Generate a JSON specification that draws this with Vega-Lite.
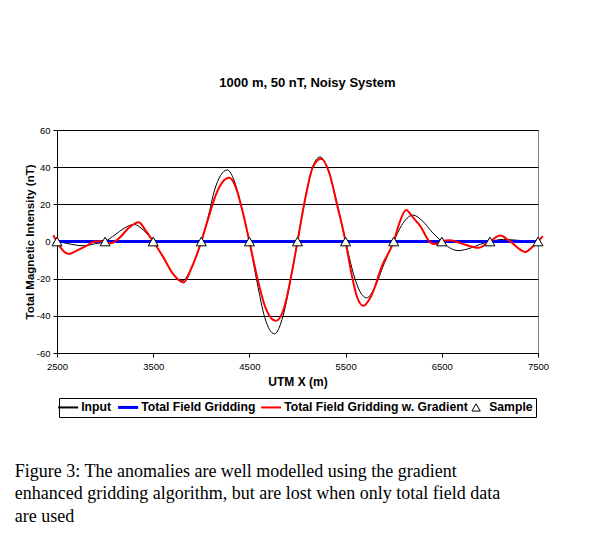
{
  "$schema": "https://vega.github.io/schema/vega-lite/v6.json",
  "background": "white",
  "padding": {"left": 14, "top": 76, "right": 0, "bottom": 0},
  "datasets": {
    "input": [
      {"series": "Input", "x": 2500, "y": 0}, {"series": "Input", "x": 2600, "y": -1}, {"series": "Input", "x": 2770, "y": -2.3}, {"series": "Input", "x": 2900, "y": -1.2}, {"series": "Input", "x": 3000, "y": 0}, {"series": "Input", "x": 3100, "y": 3.5}, {"series": "Input", "x": 3200, "y": 7.2}, {"series": "Input", "x": 3300, "y": 9.2}, {"series": "Input", "x": 3400, "y": 6}, {"series": "Input", "x": 3500, "y": 0}, {"series": "Input", "x": 3600, "y": -8}, {"series": "Input", "x": 3700, "y": -17}, {"series": "Input", "x": 3800, "y": -21.2}, {"series": "Input", "x": 3900, "y": -14}, {"series": "Input", "x": 4000, "y": 0}, {"series": "Input", "x": 4070, "y": 13}, {"series": "Input", "x": 4140, "y": 28}, {"series": "Input", "x": 4200, "y": 35.5}, {"series": "Input", "x": 4270, "y": 38.5}, {"series": "Input", "x": 4340, "y": 33}, {"series": "Input", "x": 4420, "y": 18}, {"series": "Input", "x": 4500, "y": 0}, {"series": "Input", "x": 4580, "y": -22}, {"series": "Input", "x": 4660, "y": -41}, {"series": "Input", "x": 4760, "y": -49.7}, {"series": "Input", "x": 4850, "y": -40}, {"series": "Input", "x": 4930, "y": -20}, {"series": "Input", "x": 5000, "y": 0}, {"series": "Input", "x": 5080, "y": 23}, {"series": "Input", "x": 5150, "y": 39}, {"series": "Input", "x": 5235, "y": 45.5}, {"series": "Input", "x": 5320, "y": 38}, {"series": "Input", "x": 5400, "y": 23}, {"series": "Input", "x": 5500, "y": 0}, {"series": "Input", "x": 5580, "y": -17}, {"series": "Input", "x": 5650, "y": -27}, {"series": "Input", "x": 5720, "y": -30.3}, {"series": "Input", "x": 5800, "y": -25}, {"series": "Input", "x": 5900, "y": -12}, {"series": "Input", "x": 6000, "y": 0}, {"series": "Input", "x": 6080, "y": 8.5}, {"series": "Input", "x": 6200, "y": 14.2}, {"series": "Input", "x": 6300, "y": 11}, {"series": "Input", "x": 6400, "y": 5}, {"series": "Input", "x": 6500, "y": 0}, {"series": "Input", "x": 6580, "y": -3.3}, {"series": "Input", "x": 6670, "y": -4.9}, {"series": "Input", "x": 6800, "y": -3.5}, {"series": "Input", "x": 6900, "y": -1.5}, {"series": "Input", "x": 7000, "y": 0}, {"series": "Input", "x": 7140, "y": 1.1}, {"series": "Input", "x": 7300, "y": 0.6}, {"series": "Input", "x": 7500, "y": 0}
    ],
    "gradient": [
      {"series": "Total Field Gridding w. Gradient", "x": 2460, "y": 3.4}, {"series": "Total Field Gridding w. Gradient", "x": 2500, "y": 0}, {"series": "Total Field Gridding w. Gradient", "x": 2560, "y": -4.8}, {"series": "Total Field Gridding w. Gradient", "x": 2625, "y": -6.7}, {"series": "Total Field Gridding w. Gradient", "x": 2700, "y": -5}, {"series": "Total Field Gridding w. Gradient", "x": 2800, "y": -2.5}, {"series": "Total Field Gridding w. Gradient", "x": 2890, "y": 0}, {"series": "Total Field Gridding w. Gradient", "x": 2960, "y": 0.2}, {"series": "Total Field Gridding w. Gradient", "x": 3060, "y": -0.9}, {"series": "Total Field Gridding w. Gradient", "x": 3150, "y": 2}, {"series": "Total Field Gridding w. Gradient", "x": 3250, "y": 7.5}, {"series": "Total Field Gridding w. Gradient", "x": 3350, "y": 10.3}, {"series": "Total Field Gridding w. Gradient", "x": 3420, "y": 6}, {"series": "Total Field Gridding w. Gradient", "x": 3500, "y": 0}, {"series": "Total Field Gridding w. Gradient", "x": 3600, "y": -8}, {"series": "Total Field Gridding w. Gradient", "x": 3700, "y": -17}, {"series": "Total Field Gridding w. Gradient", "x": 3815, "y": -22}, {"series": "Total Field Gridding w. Gradient", "x": 3900, "y": -14}, {"series": "Total Field Gridding w. Gradient", "x": 4000, "y": 0}, {"series": "Total Field Gridding w. Gradient", "x": 4070, "y": 12}, {"series": "Total Field Gridding w. Gradient", "x": 4150, "y": 25}, {"series": "Total Field Gridding w. Gradient", "x": 4220, "y": 32}, {"series": "Total Field Gridding w. Gradient", "x": 4290, "y": 34.3}, {"series": "Total Field Gridding w. Gradient", "x": 4360, "y": 29}, {"series": "Total Field Gridding w. Gradient", "x": 4430, "y": 16}, {"series": "Total Field Gridding w. Gradient", "x": 4500, "y": 0}, {"series": "Total Field Gridding w. Gradient", "x": 4580, "y": -19}, {"series": "Total Field Gridding w. Gradient", "x": 4670, "y": -36}, {"series": "Total Field Gridding w. Gradient", "x": 4775, "y": -42.7}, {"series": "Total Field Gridding w. Gradient", "x": 4870, "y": -34}, {"series": "Total Field Gridding w. Gradient", "x": 4940, "y": -17}, {"series": "Total Field Gridding w. Gradient", "x": 5000, "y": 0}, {"series": "Total Field Gridding w. Gradient", "x": 5080, "y": 23}, {"series": "Total Field Gridding w. Gradient", "x": 5160, "y": 40}, {"series": "Total Field Gridding w. Gradient", "x": 5245, "y": 44.5}, {"series": "Total Field Gridding w. Gradient", "x": 5330, "y": 37}, {"series": "Total Field Gridding w. Gradient", "x": 5410, "y": 20}, {"series": "Total Field Gridding w. Gradient", "x": 5500, "y": 0}, {"series": "Total Field Gridding w. Gradient", "x": 5560, "y": -17}, {"series": "Total Field Gridding w. Gradient", "x": 5620, "y": -30}, {"series": "Total Field Gridding w. Gradient", "x": 5685, "y": -34.6}, {"series": "Total Field Gridding w. Gradient", "x": 5760, "y": -30}, {"series": "Total Field Gridding w. Gradient", "x": 5880, "y": -13}, {"series": "Total Field Gridding w. Gradient", "x": 6000, "y": 0}, {"series": "Total Field Gridding w. Gradient", "x": 6060, "y": 10}, {"series": "Total Field Gridding w. Gradient", "x": 6128, "y": 17}, {"series": "Total Field Gridding w. Gradient", "x": 6200, "y": 13}, {"series": "Total Field Gridding w. Gradient", "x": 6280, "y": 8}, {"series": "Total Field Gridding w. Gradient", "x": 6380, "y": -0.5}, {"series": "Total Field Gridding w. Gradient", "x": 6430, "y": -1.4}, {"series": "Total Field Gridding w. Gradient", "x": 6500, "y": 0.2}, {"series": "Total Field Gridding w. Gradient", "x": 6586, "y": 0.7}, {"series": "Total Field Gridding w. Gradient", "x": 6700, "y": -1}, {"series": "Total Field Gridding w. Gradient", "x": 6880, "y": -3.4}, {"series": "Total Field Gridding w. Gradient", "x": 7000, "y": 0}, {"series": "Total Field Gridding w. Gradient", "x": 7107, "y": 3.2}, {"series": "Total Field Gridding w. Gradient", "x": 7200, "y": 0.5}, {"series": "Total Field Gridding w. Gradient", "x": 7367, "y": -5.6}, {"series": "Total Field Gridding w. Gradient", "x": 7450, "y": -2.5}, {"series": "Total Field Gridding w. Gradient", "x": 7500, "y": 0}, {"series": "Total Field Gridding w. Gradient", "x": 7550, "y": 2.9}
    ],
    "total": [
      {"series": "Total Field Gridding", "x": 2500, "y": 0}, {"series": "Total Field Gridding", "x": 3000, "y": 0}, {"series": "Total Field Gridding", "x": 3500, "y": 0}, {"series": "Total Field Gridding", "x": 4000, "y": 0}, {"series": "Total Field Gridding", "x": 4500, "y": 0}, {"series": "Total Field Gridding", "x": 5000, "y": 0}, {"series": "Total Field Gridding", "x": 5500, "y": 0}, {"series": "Total Field Gridding", "x": 6000, "y": 0}, {"series": "Total Field Gridding", "x": 6500, "y": 0}, {"series": "Total Field Gridding", "x": 7000, "y": 0}, {"series": "Total Field Gridding", "x": 7500, "y": 0}
    ],
    "sample": [
      {"series": "Sample", "x": 2500, "y": 0}, {"series": "Sample", "x": 3000, "y": 0}, {"series": "Sample", "x": 3500, "y": 0}, {"series": "Sample", "x": 4000, "y": 0}, {"series": "Sample", "x": 4500, "y": 0}, {"series": "Sample", "x": 5000, "y": 0}, {"series": "Sample", "x": 5500, "y": 0}, {"series": "Sample", "x": 6000, "y": 0}, {"series": "Sample", "x": 6500, "y": 0}, {"series": "Sample", "x": 7000, "y": 0}, {"series": "Sample", "x": 7500, "y": 0}
    ]
  },
  "title": {
    "text": ["Figure 3:  The anomalies are well modelled using the gradient", "enhanced gridding algorithm, but are lost when only total field data", "are used"],
    "orient": "bottom",
    "anchor": "start",
    "frame": "bounds",
    "font": "Liberation Serif",
    "fontSize": 18,
    "fontWeight": "normal",
    "color": "black",
    "lineHeight": 22.5,
    "offset": 45,
    "dx": -9
  },
  "vconcat": [
    {
      "width": 481,
      "height": 223,
      "title": {"text": "1000 m, 50 nT, Noisy System", "font": "Liberation Sans", "fontSize": 13, "fontWeight": "bold", "color": "black", "offset": 35, "dx": 10},
      "encoding": {
        "x": {"field": "x", "type": "quantitative", "scale": {"domain": [2500, 7500], "nice": false, "zero": false},
              "axis": {"values": [2500, 3500, 4500, 5500, 6500, 7500], "grid": false, "title": "UTM X (m)", "labelExpr": "'' + datum.value", "labelFlush": false, "labelPadding": 4, "titlePadding": 6, "titleFontSize": 12}},
        "y": {"field": "y", "type": "quantitative", "scale": {"domain": [-60, 60], "nice": false},
              "axis": {"values": [-60, -40, -20, 0, 20, 40, 60], "grid": true, "title": "Total Magnetic Intensity (nT)", "labelExpr": "'' + datum.value", "labelFlush": false, "labelPadding": 3, "titlePadding": 1, "titleFontSize": 11.5}},
        "color": {"field": "series", "type": "nominal",
                  "scale": {"domain": ["Input", "Total Field Gridding", "Total Field Gridding w. Gradient", "Sample"], "range": ["#000000", "#0000FF", "#FF0000", "#000000"]},
                  "legend": {
                    "title": null,
                    "encode": {
                      "symbols": {
                        "update": {
                          "shape": {"signal": "datum.value === 'Sample' ? 'triangle-up' : 'stroke'"},
                          "size": {"signal": "datum.value === 'Sample' ? 70 : 400"},
                          "strokeWidth": {"signal": "datum.value === 'Total Field Gridding' ? 3 : (datum.value === 'Sample' ? 1 : 2)"},
                          "fill": {"value": "white"}
                        }
                      }
                    }
                  }}
      },
      "layer": [
        {"data": {"name": "input"}, "mark": {"type": "line", "interpolate": "monotone", "strokeWidth": 1}},
        {"data": {"name": "total"}, "mark": {"type": "line", "strokeWidth": 3}},
        {"data": {"name": "gradient"}, "mark": {"type": "line", "interpolate": "monotone", "strokeWidth": 2}},
        {"data": {"name": "sample"}, "mark": {"type": "point", "shape": "triangle-up", "filled": false, "fill": "white", "fillOpacity": 1, "opacity": 1, "strokeWidth": 1, "size": 100}}
      ]
    }
  ],
  "config": {
    "font": "Liberation Sans",
    "view": {"stroke": "#808080", "strokeWidth": 1},
    "axis": {"labelFont": "Liberation Sans", "labelFontSize": 9.5, "labelColor": "black", "titleFont": "Liberation Sans", "titleFontWeight": "bold", "titleColor": "black", "domainColor": "black", "tickColor": "black", "tickSize": 4, "gridColor": "black", "gridWidth": 1, "gridOpacity": 1},
    "legend": {
      "orient": "bottom",
      "direction": "horizontal",
      "layout": {"bottom": {"anchor": "middle", "bounds": "flush"}},
      "offset": 10,
      "padding": 3,
      "strokeColor": "black",
      "fillColor": "white",
      "labelFont": "Liberation Sans",
      "labelFontSize": 12.2,
      "labelFontWeight": "bold",
      "labelColor": "black",
      "labelOffset": 7,
      "columnPadding": 1,
      "symbolSize": 400,
      "symbolStrokeWidth": 2,
      "labelLimit": 400
    }
  }
}
